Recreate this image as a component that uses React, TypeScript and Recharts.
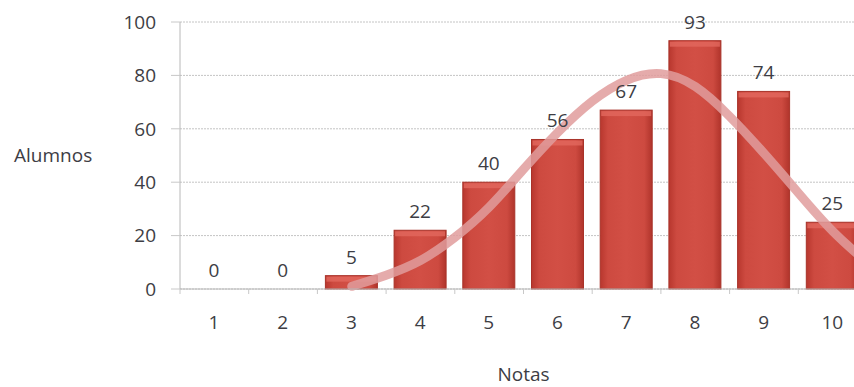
import {
  ComposedChart,
  Bar,
  Line,
  XAxis,
  YAxis,
  CartesianGrid,
  LabelList,
} from "recharts";

const notas = [1, 2, 3, 4, 5, 6, 7, 8, 9, 10];
const alumnos = [0, 0, 5, 22, 40, 56, 67, 93, 74, 25];

// fitted curve at half steps
const curvaX = [3, 3.5, 4, 4.5, 5, 5.5, 6, 6.5, 7, 7.5, 8, 8.5, 9, 9.5, 10, 10.5];
const curvaY = [1, 5, 10, 19, 30, 45, 59, 71, 79, 82, 77, 65, 51, 36, 21, 10];

const yTicks = [0, 20, 40, 60, 80, 100];
const xEdges = [0.5, 1.5, 2.5, 3.5, 4.5, 5.5, 6.5, 7.5, 8.5, 9.5];

const data = notas.map((n, i) => ({ nota: n, alumnos: alumnos[i] }));
const curva = curvaX.map((x, i) => ({ nota: x, curva: curvaY[i] }));

const font = "'Open Sans', sans-serif";
const textColor = "#3d3d44";

const BarShape = (props: any) => {
  const { x, y, width, height } = props;
  if (!height || height <= 0) return null;
  const bevel = Math.min(5, height / 2);
  return (
    <g>
      <rect x={x} y={y} width={width} height={height} fill="url(#barGrad)" stroke="#a83229" strokeWidth={1} />
      <rect x={x + 1} y={y + 1} width={width - 2} height={bevel} fill="#e2685e" opacity={0.8} />
    </g>
  );
};

export default function App() {
  return (
    <div style={{ position: "fixed", left: 0, top: 0, width: 854, height: 387, overflow: "hidden", background: "#fff" }}>
      <ComposedChart
        width={870}
        height={387}
        data={data}
        margin={{ top: 22, right: 3, bottom: 0, left: 0 }}
        style={{ fontFamily: font }}
      >
        <defs>
          <linearGradient id="barGrad" x1="0" y1="0" x2="1" y2="0">
            <stop offset="0%" stopColor="#b8372e" />
            <stop offset="15%" stopColor="#cd4a40" />
            <stop offset="50%" stopColor="#d24f45" />
            <stop offset="85%" stopColor="#cd4a40" />
            <stop offset="100%" stopColor="#b0342b" />
          </linearGradient>
        </defs>
        <CartesianGrid vertical={false} stroke="#c4c4c4" strokeDasharray="2 1" />
        <XAxis
          dataKey="nota"
          type="number"
          domain={[0.5, 10.5]}
          ticks={xEdges}
          tickFormatter={(v: number) => String(v + 0.5)}
          tick={{ dx: 34, fill: textColor, fontSize: 19, fontFamily: font }}
          tickSize={5}
          tickMargin={22}
          axisLine={{ stroke: "#b8b8b8" }}
          tickLine={{ stroke: "#c8c8c8" }}
          height={98}
          allowDataOverflow
          label={{ value: "Notas", position: "insideBottom", offset: 6, fill: textColor, fontSize: 19, fontFamily: font }}
        />
        <XAxis xAxisId="curva" dataKey="nota" type="number" domain={[0.5, 10.5]} allowDataOverflow hide />
        <YAxis
          domain={[0, 100]}
          ticks={yTicks}
          width={180}
          tickSize={9}
          tickMargin={15}
          tick={{ fill: textColor, fontSize: 19, fontFamily: font }}
          axisLine={{ stroke: "#b8b8b8" }}
          tickLine={{ stroke: "#c8c8c8" }}
          label={{ value: "Alumnos", position: "insideLeft", offset: 14, fill: textColor, fontSize: 19, fontFamily: font }}
        />
        <Bar dataKey="alumnos" barSize={52} shape={BarShape} isAnimationActive={false}>
          <LabelList dataKey="alumnos" position="top" offset={12} fill={textColor} fontSize={19} fontFamily={font} />
        </Bar>
        <Line
          xAxisId="curva"
          data={curva}
          dataKey="curva"
          type="basis"
          stroke="#e09c9c"
          strokeOpacity={0.85}
          strokeWidth={9}
          strokeLinecap="round"
          dot={false}
          activeDot={false}
          isAnimationActive={false}
        />
      </ComposedChart>
    </div>
  );
}
